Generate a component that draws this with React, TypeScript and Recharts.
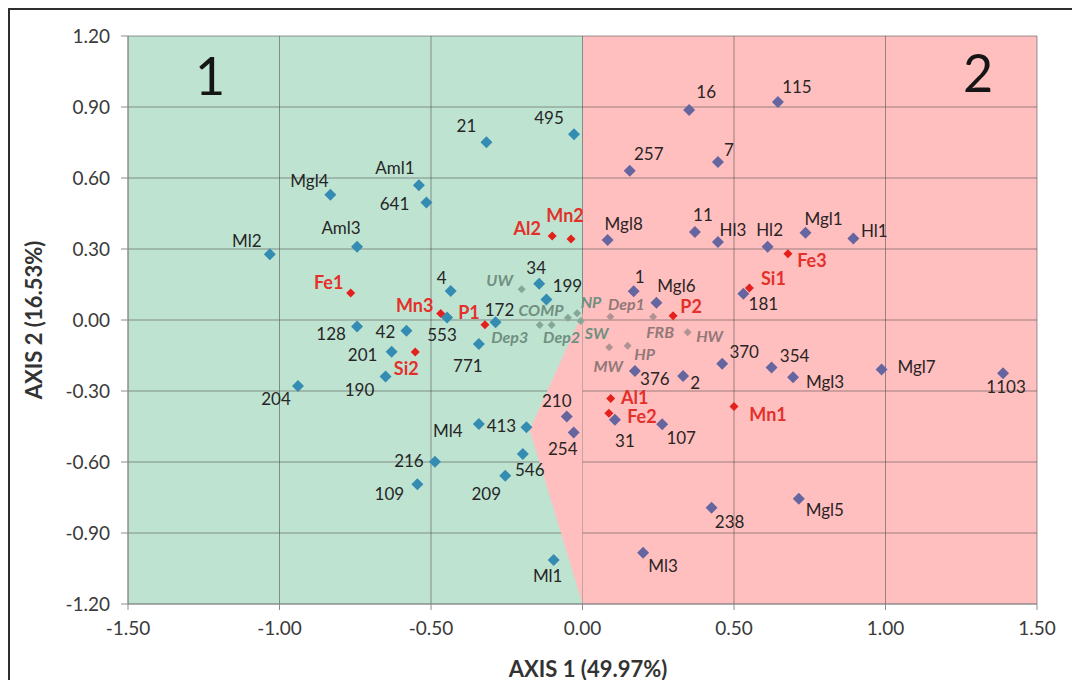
/**
 * Correspondence analysis biplot: samples and variables on AXIS 1 / AXIS 2,
 * with the two cluster zones (1 green, 2 pink) drawn behind the points.
 */
import { CartesianGrid, Scatter, ScatterChart, XAxis, YAxis } from "recharts";

// axis ticks
const X_TICKS = [-1.5, -1, -0.5, 0, 0.5, 1, 1.5];
const Y_TICKS = [-1.2, -0.9, -0.6, -0.3, 0, 0.3, 0.6, 0.9, 1.2];

// zone 1 samples (blue diamonds)
const GROUP1_NAMES = ["21", "495", "Aml1", "Mgl4", "641", "Aml3", "Ml2", "4", "34", "199", "553", "172", "128", "42", "201", "190", "204", "771", "Ml4", "413", "216", "109", "546", "209", "Ml1"];
const GROUP1_X = [-0.317, -0.028, -0.54, -0.832, -0.515, -0.744, -1.032, -0.435, -0.143, -0.119, -0.447, -0.287, -0.744, -0.581, -0.63, -0.65, -0.939, -0.342, -0.342, -0.185, -0.487, -0.545, -0.197, -0.255, -0.095];
const GROUP1_Y = [0.751, 0.785, 0.569, 0.529, 0.497, 0.31, 0.278, 0.123, 0.153, 0.087, 0.011, -0.01, -0.027, -0.045, -0.134, -0.239, -0.279, -0.101, -0.439, -0.453, -0.599, -0.694, -0.566, -0.658, -1.014];

// zone 2 samples (purple diamonds)
const GROUP2_NAMES = ["16", "115", "257", "7", "Mgl8", "11", "Hl3", "Hl2", "Mgl1", "Hl1", "181", "1", "Mgl6", "376", "2", "370", "354", "Mgl3", "Mgl7", "1103", "31", "107", "238", "Mgl5", "Ml3", "210", "254"];
const GROUP2_X = [0.352, 0.645, 0.156, 0.447, 0.083, 0.371, 0.447, 0.611, 0.736, 0.894, 0.531, 0.169, 0.244, 0.173, 0.332, 0.461, 0.624, 0.695, 0.987, 1.388, 0.107, 0.263, 0.426, 0.714, 0.2, -0.052, -0.029];
const GROUP2_Y = [0.887, 0.921, 0.631, 0.668, 0.338, 0.372, 0.33, 0.31, 0.369, 0.344, 0.111, 0.121, 0.073, -0.215, -0.237, -0.185, -0.201, -0.242, -0.209, -0.225, -0.422, -0.441, -0.793, -0.755, -0.983, -0.408, -0.475];

// element variables (red)
const ELEMENT_NAMES = ["Fe1", "Al2", "Mn2", "Mn3", "P1", "Si2", "Fe3", "Si1", "P2", "Al1", "Fe2", "Mn1"];
const ELEMENT_X = [-0.765, -0.1, -0.038, -0.468, -0.322, -0.552, 0.678, 0.551, 0.299, 0.093, 0.087, 0.5];
const ELEMENT_Y = [0.114, 0.355, 0.342, 0.027, -0.02, -0.135, 0.28, 0.135, 0.018, -0.332, -0.394, -0.366];

// supplementary variables near the origin (grey-green)
const SOURCE_A_NAMES = ["UW", "COMP", "NP", "Dep3", "Dep2", "SW"];
const SOURCE_A_X = [-0.201, -0.048, -0.018, -0.141, -0.102, -0.006];
const SOURCE_A_Y = [0.13, 0.01, 0.028, -0.021, -0.021, -0.004];

// supplementary variables near the origin (grey-brown)
const SOURCE_B_NAMES = ["Dep1", "FRB", "HW", "MW", "HP"];
const SOURCE_B_X = [0.092, 0.233, 0.347, 0.088, 0.149];
const SOURCE_B_Y = [0.014, 0.014, -0.052, -0.115, -0.109];

// boundary wedge of zone 2 that cuts into the left half
const WEDGE_X = [0, -0.174, 0];
const WEDGE_Y = [0.03, -0.465, -1.2];

// label placement (pixels from the marker centre)
const LABEL_OFFSETS: Record<string, [number, number]> = {
  "21": [-20, -17], "495": [-25, -17], Aml1: [-24, -18], Mgl4: [-21, -14], "641": [-32, 1], Aml3: [-16, -19],
  Ml2: [-23, -14], "4": [-9, -13], "34": [-3, -16], "199": [21, -14], "553": [-5, 17], "172": [4, -13],
  "128": [-26, 7], "42": [-21, 1], "201": [-29, 3], "190": [-26, 13], "204": [-22, 12], "771": [-11, 22],
  Ml4: [-31, 7], "413": [-25, -2], "216": [-26, -1], "109": [-28, 9], "546": [7, 16], "209": [-19, 18], Ml1: [-6, 16],
  "16": [17, -19], "115": [19, -16], "257": [19, -17], "7": [11, -12], Mgl8: [16, -17], "11": [8, -17],
  Hl3: [15, -12], Hl2: [2, -17], Mgl1: [18, -14], Hl1: [21, -8], "181": [20, 10], "1": [6, -15], Mgl6: [20, -17],
  "376": [20, 8], "2": [12, 6], "370": [22, -12], "354": [23, -12], Mgl3: [32, 4], Mgl7: [35, -3], "1103": [3, 13],
  "31": [10, 21], "107": [19, 13], "238": [18, 14], Mgl5: [26, 11], Ml3: [20, 13], "210": [-10, -16], "254": [-11, 16],
  Fe1: [-22, -11], Al2: [-25, -8], Mn2: [-6, -24], Mn3: [-26, -9], P1: [-16, -13], Si2: [-9, 16],
  Fe3: [24, 6], Si1: [24, -10], P2: [18, -10], Al1: [24, -2], Fe2: [33, 3], Mn1: [34, 7],
  UW: [-22, -10], COMP: [-27, -8], NP: [14, -12], Dep3: [-30, 12], Dep2: [10, 12], SW: [16, 12],
  Dep1: [16, -13], FRB: [7, 15], HW: [22, 3], MW: [-1, 18], HP: [17, 8],
};

const GREEN = "#bfe3d1";
const PINK = "#ffbfbf";
const FONT = "Lato, 'Open Sans', sans-serif";

type Point = { name: string; x: number; y: number };
type MarkerStyle = {
  fill: string;
  half: number;
  textFill: string;
  fontSize: number;
  fontWeight: number;
  fontStyle: string;
};

const toPoints = (names: string[], xs: number[], ys: number[]): Point[] =>
  names.map((name, i) => ({ name, x: xs[i], y: ys[i] }));

const group1 = toPoints(GROUP1_NAMES, GROUP1_X, GROUP1_Y);
const group2 = toPoints(GROUP2_NAMES, GROUP2_X, GROUP2_Y);
const elements = toPoints(ELEMENT_NAMES, ELEMENT_X, ELEMENT_Y);
const sourceA = toPoints(SOURCE_A_NAMES, SOURCE_A_X, SOURCE_A_Y);
const sourceB = toPoints(SOURCE_B_NAMES, SOURCE_B_X, SOURCE_B_Y);
const wedge = WEDGE_X.map((x, i) => ({ x, y: WEDGE_Y[i] }));

const BLUE_STYLE: MarkerStyle = { fill: "#348cb2", half: 6, textFill: "#262626", fontSize: 17, fontWeight: 400, fontStyle: "normal" };
const PURPLE_STYLE: MarkerStyle = { fill: "#6565a0", half: 6, textFill: "#2a2424", fontSize: 17, fontWeight: 400, fontStyle: "normal" };
const RED_STYLE: MarkerStyle = { fill: "#e3201b", half: 4.5, textFill: "#e3302b", fontSize: 18, fontWeight: 700, fontStyle: "normal" };
const SOURCE_A_STYLE: MarkerStyle = { fill: "#86a696", half: 4, textFill: "#6f8f80", fontSize: 16, fontWeight: 700, fontStyle: "italic" };
const SOURCE_B_STYLE: MarkerStyle = { fill: "#b09292", half: 4, textFill: "#937878", fontSize: 16, fontWeight: 700, fontStyle: "italic" };

// diamond marker with its own label
function diamondShape(style: MarkerStyle) {
  return (props: any) => {
    const { cx, cy, payload } = props;
    if (cx == null || cy == null) return <g />;
    const h = style.half;
    const [dx, dy] = LABEL_OFFSETS[payload.name] ?? [0, -14];
    return (
      <g>
        <path d={`M${cx},${cy - h}L${cx + h},${cy}L${cx},${cy + h}L${cx - h},${cy}Z`} fill={style.fill} />
        <text
          x={cx + dx}
          y={cy + dy}
          textAnchor="middle"
          dominantBaseline="central"
          fill={style.textFill}
          fontSize={style.fontSize}
          fontWeight={style.fontWeight}
          fontStyle={style.fontStyle}
          fontFamily={FONT}
        >
          {payload.name}
        </text>
      </g>
    );
  };
}

// fills the polygon through the scattered wedge vertices
const wedgeFill = (props: any) => {
  const pts: { x: number; y: number }[] = props.points ?? [];
  if (!pts.length) return <g />;
  const d = pts.map((p, i) => `${i ? "L" : "M"}${p.x},${p.y}`).join("") + "Z";
  return <path d={d} fill={PINK} stroke="none" />;
};

const tickStyle = { fill: "#3a3a3a", fontSize: 19, fontFamily: FONT };

export default function App() {
  return (
    <div style={{ position: "relative", width: 1064, height: 672, fontFamily: FONT }}>
      <div
        style={{
          position: "absolute",
          left: 0,
          top: 0,
          width: 1066,
          height: 700,
          border: "2px solid #2e2e2e",
          boxSizing: "border-box",
        }}
      />
      <ScatterChart width={1064} height={672} margin={{ top: 28, right: 35, left: 0, bottom: 0 }}>
        <CartesianGrid
          stroke="#4a4a4a"
          strokeOpacity={0.55}
          verticalFill={[GREEN, GREEN, GREEN, PINK, PINK, PINK]}
        />
        <XAxis
          type="number"
          dataKey="x"
          domain={[-1.5, 1.5]}
          ticks={X_TICKS}
          tickFormatter={(v: number) => v.toFixed(2)}
          tick={tickStyle}
          tickSize={6}
          tickMargin={12}
          stroke="#8c8c8c"
          height={76}
          allowDataOverflow
        />
        <YAxis
          type="number"
          dataKey="y"
          domain={[-1.2, 1.2]}
          ticks={Y_TICKS}
          tickFormatter={(v: number) => v.toFixed(2)}
          tick={tickStyle}
          tickSize={7}
          tickMargin={11}
          stroke="#8c8c8c"
          width={120}
          allowDataOverflow
        />
        <Scatter data={wedge} line={wedgeFill} shape={() => <g />} isAnimationActive={false} />
        <Scatter data={sourceA} shape={diamondShape(SOURCE_A_STYLE)} isAnimationActive={false} />
        <Scatter data={sourceB} shape={diamondShape(SOURCE_B_STYLE)} isAnimationActive={false} />
        <Scatter data={group1} shape={diamondShape(BLUE_STYLE)} isAnimationActive={false} />
        <Scatter data={group2} shape={diamondShape(PURPLE_STYLE)} isAnimationActive={false} />
        <Scatter data={elements} shape={diamondShape(RED_STYLE)} isAnimationActive={false} />
      </ScatterChart>
      <div style={{ position: "absolute", left: 202, top: 67, transform: "translate(-50%, -50%)", fontSize: 52, color: "#151515" }}>1</div>
      <div style={{ position: "absolute", left: 970, top: 64, transform: "translate(-50%, -50%)", fontSize: 52, color: "#151515" }}>2</div>
      <div
        style={{
          position: "absolute",
          left: 580,
          top: 660,
          transform: "translate(-50%, -50%)",
          fontSize: 22,
          fontWeight: 700,
          color: "#333",
          whiteSpace: "nowrap",
        }}
      >
        AXIS 1 (49.97%)
      </div>
      <div
        style={{
          position: "absolute",
          left: 25,
          top: 312,
          transform: "translate(-50%, -50%) rotate(-90deg)",
          fontSize: 22,
          fontWeight: 700,
          color: "#333",
          whiteSpace: "nowrap",
        }}
      >
        AXIS 2 (16.53%)
      </div>
    </div>
  );
}
